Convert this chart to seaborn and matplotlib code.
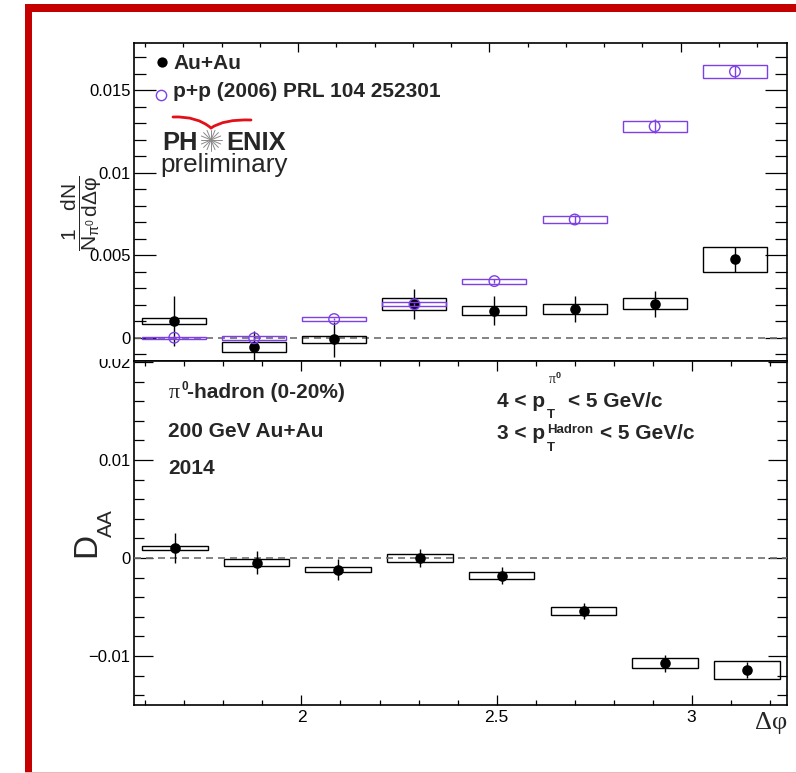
import matplotlib
matplotlib.use("Agg")
import numpy as np
import pandas as pd
import matplotlib.pyplot as plt
import seaborn as sns
from matplotlib.lines import Line2D
from matplotlib.patches import Rectangle, PathPatch
from matplotlib.path import Path
from matplotlib.ticker import MultipleLocator, FuncFormatter

# Δφ bin centres (bins of width π/15 between π/2 and π)
dphi = [1.676, 1.885, 2.094, 2.304, 2.513, 2.723, 2.932, 3.142]
bin_width = 0.2094

# per-trigger yield, Au+Au (0-20%)
auau_y    = [0.00102, -0.00057, -0.00010, 0.00203, 0.00163, 0.00174, 0.00206, 0.00474]
auau_stat = [0.00150, 0.00095, 0.00108, 0.00091, 0.00088, 0.00078, 0.00078, 0.00078]
auau_sys  = [0.00020, 0.00031, 0.00023, 0.00036, 0.00028, 0.00033, 0.00035, 0.00077]

# per-trigger yield, p+p reference (2006)
pp_y    = [0.00000, -0.00003, 0.00113, 0.00203, 0.00343, 0.00716, 0.01280, 0.01612]
pp_stat = [0.00008, 0.00008, 0.00008, 0.00008, 0.00012, 0.00030, 0.00042, 0.00036]
pp_sys  = [0.00005, 0.00012, 0.00010, 0.00012, 0.00015, 0.00022, 0.00034, 0.00042]

# D_AA
daa_y    = [0.00105, -0.00048, -0.00119, 0.00000, -0.00180, -0.00540, -0.01075, -0.01143]
daa_stat = [0.00155, 0.00120, 0.00110, 0.00095, 0.00087, 0.00078, 0.00088, 0.00080]
daa_sys  = [0.00020, 0.00036, 0.00026, 0.00037, 0.00034, 0.00040, 0.00051, 0.00087]

sns.set_theme(style="ticks")
plt.rcParams["font.family"] = ["Liberation Sans", "DejaVu Sans"]
plt.rcParams.update({
    "mathtext.fontset": "custom",
    "mathtext.rm": "Liberation Sans",
    "mathtext.it": "Liberation Sans",
    "mathtext.bf": "Liberation Sans:bold",
    "mathtext.sf": "Liberation Sans",
    "mathtext.default": "rm",
    "axes.linewidth": 1.2,
    "axes.edgecolor": "black",
    "xtick.color": "black",
    "ytick.color": "black",
})

W, H = 796, 773
fig = plt.figure(figsize=(W / 100, H / 100), dpi=100)
fig.patch.set_facecolor("white")


def fx(px):
    return px / W


def fy(py):
    return (H - py) / H


ax_top = fig.add_axes([fx(134), fy(361), 653 / W, 318 / H])
ax_bot = fig.add_axes([fx(134), fy(705), 653 / W, 344 / H])

VIOLET = "#7f3fe6"
RED = "#c40000"
half_box = 0.4 * bin_width


def draw_series(ax, y, stat, syst, color, filled, z):
    y = np.asarray(y)
    syst = np.asarray(syst)
    ax.bar(dphi, 2 * syst, bottom=y - syst, width=2 * half_box, fill=False,
           edgecolor=color, linewidth=1.0, zorder=z)
    ax.errorbar(dphi, y, yerr=stat, fmt="none", ecolor=color,
                elinewidth=1.0, capsize=0, zorder=z + 0.1)
    df = pd.DataFrame({"dphi": dphi, "val": y})
    if filled:
        sns.scatterplot(data=df, x="dphi", y="val", ax=ax, color=color,
                        edgecolor=color, s=58, linewidth=0, zorder=z + 0.2,
                        legend=False)
    else:
        sns.scatterplot(data=df, x="dphi", y="val", ax=ax, color="none",
                        edgecolor=color, s=58, linewidth=1.0, zorder=z + 0.2,
                        legend=False)


# upper panel: yields
draw_series(ax_top, auau_y, auau_stat, auau_sys, "black", True, 3)
draw_series(ax_top, pp_y, pp_stat, pp_sys, VIOLET, False, 4)
ax_top.axhline(0, color="#6e6e6e", lw=1.2, ls=(0, (4.2, 3.0)), zorder=2.5)

# lower panel: D_AA
draw_series(ax_bot, daa_y, daa_stat, daa_sys, "black", True, 3)
ax_bot.axhline(0, color="#6e6e6e", lw=1.2, ls=(0, (4.2, 3.0)), zorder=3.05)

ax_top.set_xlim(np.pi / 2, 3.278)
ax_top.set_ylim(-0.00141, 0.01785)
ax_bot.set_xlim(np.pi / 2, 3.2444)
ax_bot.set_ylim(-0.0150, 0.0201)


def num_fmt(v, pos):
    if abs(v) < 1e-12:
        return "0"
    return f"{v:g}".replace("-", "\u2212")


for ax in (ax_top, ax_bot):
    ax.set_xlabel("")
    ax.set_ylabel("")
    ax.set_facecolor("white")
    for sp in ax.spines.values():
        sp.set_visible(True)
        sp.set_linewidth(1.2)
        sp.set_color("black")
    ax.xaxis.set_major_locator(MultipleLocator(0.5))
    ax.xaxis.set_minor_locator(MultipleLocator(0.1))
    ax.yaxis.set_major_formatter(FuncFormatter(num_fmt))
    ax.xaxis.set_major_formatter(FuncFormatter(num_fmt))

ax_top.yaxis.set_major_locator(MultipleLocator(0.005))
ax_top.yaxis.set_minor_locator(MultipleLocator(0.001))
ax_bot.yaxis.set_major_locator(MultipleLocator(0.01))
ax_bot.yaxis.set_minor_locator(MultipleLocator(0.002))

ax_top.tick_params(axis="x", which="both", direction="in", top=True,
                   bottom=False, labelbottom=False, width=0.9)
ax_top.tick_params(axis="x", which="major", length=6.7)
ax_top.tick_params(axis="x", which="minor", length=3.1)
ax_top.tick_params(axis="y", which="both", direction="in", left=True,
                   right=True, labelsize=12, pad=2.5, width=0.9)
ax_top.tick_params(axis="y", which="major", length=15.8)
ax_top.tick_params(axis="y", which="minor", length=8.4)

ax_bot.tick_params(axis="x", which="both", direction="in", top=True,
                   bottom=True, labelsize=12.5, pad=3.5, width=0.9)
ax_bot.tick_params(axis="x", which="major", length=7.2)
ax_bot.tick_params(axis="x", which="minor", length=3.6)
ax_bot.tick_params(axis="y", which="both", direction="in", left=True,
                   right=True, labelsize=12, pad=2.5, width=0.9)
ax_bot.tick_params(axis="y", which="major", length=14.0)
ax_bot.tick_params(axis="y", which="minor", length=7.2)


def ftext(x, y, s, size, bold=True, **kw):
    return fig.text(fx(x), fy(y), s, fontsize=size,
                    fontweight="bold" if bold else "normal",
                    va=kw.pop("va", "baseline"), ha=kw.pop("ha", "left"), **kw)


SERIF = ["Liberation Serif", "DejaVu Serif"]

# axis titles
fig.text(fx(82), fy(213),
         r"$\dfrac{1}{N_{\pi^{0}}}\dfrac{dN}{d\Delta\varphi}$",
         rotation=90, ha="center", va="center", fontsize=15)
fig.text(fx(95), fy(557), "D", rotation=90, rotation_mode="anchor",
         ha="left", va="baseline", fontsize=24)
fig.text(fx(112), fy(537), "AA", rotation=90, rotation_mode="anchor",
         ha="left", va="baseline", fontsize=15)
ftext(787, 729, "Δφ", 19, bold=False, ha="right", family=SERIF)

# legend
ax_top.plot([(162 - 134) / 653], [(361 - 61.5) / 318], "o", color="black",
            ms=7.4, mew=0, transform=ax_top.transAxes, clip_on=False)
ax_top.plot([(161 - 134) / 653], [(361 - 95) / 318], "o", mfc="none",
            mec=VIOLET, ms=7.4, mew=1.0, transform=ax_top.transAxes,
            clip_on=False)
ftext(173, 69.3, "Au+Au", 15)
ftext(173, 96.7, "p+p (2006) PRL 104 252301", 15)

# PHENIX preliminary mark
ftext(162, 150, "PH", 18.4)
ftext(226, 150, "ENIX", 18.4)
ftext(160, 172, "preliminary", 18.8, bold=False)
cx, cy, r = 211, 140, 10.5
for a in np.linspace(0, np.pi, 9)[:-1]:
    xs = [cx - r * np.cos(a), cx + r * np.cos(a)]
    ys = [cy - r * np.sin(a), cy + r * np.sin(a)]
    fig.add_artist(Line2D([fx(v) for v in xs], [fy(v) for v in ys],
                          transform=fig.transFigure, color="#8a8a8a", lw=0.7))
wing = Path([(fx(173), fy(117)), (fx(197), fy(116)), (fx(211), fy(128)),
             (fx(224), fy(119)), (fx(251), fy(120))],
            [Path.MOVETO, Path.CURVE3, Path.CURVE3, Path.CURVE3, Path.CURVE3])
fig.add_artist(PathPatch(wing, transform=fig.transFigure, fill=False,
                         edgecolor="#e3101a", lw=2.0, capstyle="round"))

# selection labels
ftext(169, 398, "π", 16, bold=False, family=SERIF)
ftext(181, 390, "0", 8.5)
ftext(187, 398, "-hadron (0-20%)", 15)
ftext(168, 436.7, "200 GeV Au+Au", 15)
ftext(168, 474, "2014", 15)

ftext(497, 407, "4 < p", 15)
ftext(547, 418, "T", 9.5)
ftext(549, 383, "π", 10, bold=False, family=SERIF)
ftext(556, 378, "0", 6.5)
ftext(568, 407, "< 5 GeV/c", 15)

ftext(497, 439, "3 < p", 15)
ftext(547, 451, "T", 9.5)
ftext(547, 433, "Hadron", 9.5)
ftext(600, 439, "< 5 GeV/c", 15)

# upper pad hides the top of the lower pad's first label
fig.add_artist(Rectangle((fx(80), fy(359)), fx(132) - fx(80), fy(349) - fy(359),
                         transform=fig.transFigure, facecolor="white",
                         edgecolor="none", zorder=5))

# canvas frame
fig.add_artist(Rectangle((fx(25), fy(11.7)), 1 - fx(25), fy(4) - fy(11.7),
                         transform=fig.transFigure, facecolor=RED,
                         edgecolor="none", zorder=6))
fig.add_artist(Rectangle((fx(25), 0), fx(32.4) - fx(25), fy(4),
                         transform=fig.transFigure, facecolor=RED,
                         edgecolor="none", zorder=6))
fig.add_artist(Rectangle((fx(25), 0), 1 - fx(25), 1.4 / H,
                         transform=fig.transFigure, facecolor="#f0b4b4",
                         edgecolor="none", zorder=6))

fig.savefig("out.png", dpi=100, facecolor="white")
